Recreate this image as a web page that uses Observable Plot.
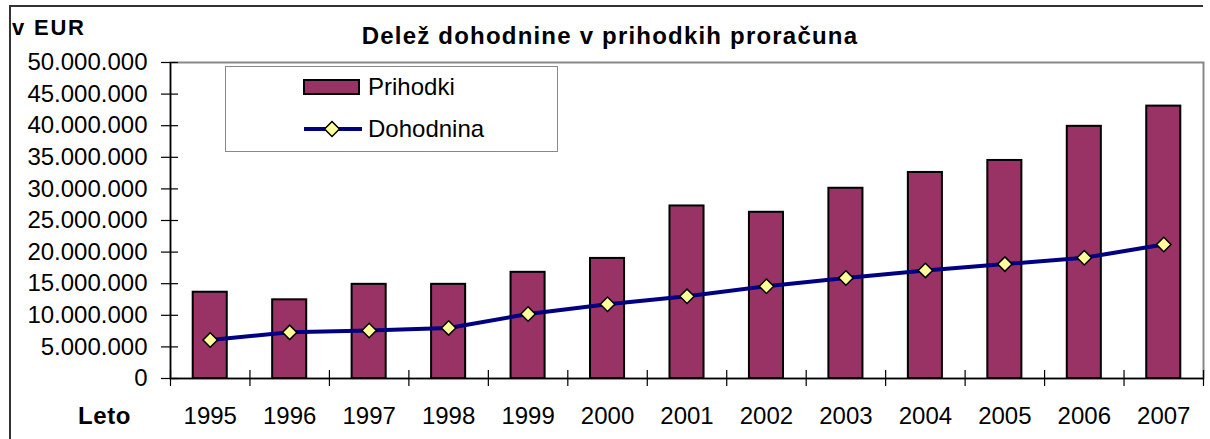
<!DOCTYPE html>
<html>
<head>
<meta charset="utf-8">
<script src="https://cdn.jsdelivr.net/npm/d3@7"></script>
<script src="https://cdn.jsdelivr.net/npm/@observablehq/plot@0.6"></script>
<style>
  html, body { margin: 0; padding: 0; background: #fff; }
  #wrap { position: relative; width: 1210px; height: 439px; overflow: hidden; font-family: "Liberation Sans", Arial, sans-serif; color: #000; }
  #outer { position: absolute; left: 9px; top: 5px; width: 1194px; height: 460px; border-left: 2px solid #333; border-top: 2px solid #333; box-sizing: border-box; }
  #chart { position: absolute; left: 0; top: 0; }
  .lbl { position: absolute; font-weight: bold; white-space: nowrap; line-height: 1; }
  #title { left: 0; width: 1220px; text-align: center; top: 24px; font-size: 24px; letter-spacing: 1.2px; }
  #unit { left: 12px; top: 17px; font-size: 22px; letter-spacing: 1.8px; }
  #leto { left: 78px; top: 404px; font-size: 24px; letter-spacing: 0.6px; }
  #legend { position: absolute; left: 225px; top: 66px; width: 333px; height: 86px; border: 1.5px solid #888; background: #fff; box-sizing: border-box; }
</style>
</head>
<body>
<div id="wrap">
  <div id="outer"></div>
  <div id="chart"></div>
  <div class="lbl" id="title">Delež dohodnine v prihodkih proračuna</div>
  <div class="lbl" id="unit">v EUR</div>
  <div class="lbl" id="leto">Leto</div>
  <div id="legend"></div>
</div>
<script>
// ---- data ----
const years = [1995, 1996, 1997, 1998, 1999, 2000, 2001, 2002, 2003, 2004, 2005, 2006, 2007];
const prihodki = [13650000, 12450000, 14900000, 14900000, 16800000, 19000000, 27300000, 26300000, 30100000, 32600000, 34500000, 39900000, 43100000];
const dohodnina = [6100000, 7300000, 7600000, 8000000, 10200000, 11750000, 13000000, 14600000, 15900000, 17100000, 18100000, 19100000, 21200000];
const yTicks = [0, 5000000, 10000000, 15000000, 20000000, 25000000, 30000000, 35000000, 40000000, 45000000, 50000000];
const seriesNames = ["Prihodki", "Dohodnina"];

const data = years.map((year, i) => ({year, prihodki: prihodki[i], dohodnina: dohodnina[i]}));
const boundaries = years.map(y => y - 0.5).concat([years[years.length - 1] + 0.5]);
const fmt = d => d3.format(",")(d).replace(/,/g, ".");

const BAR = "#993366", LINE = "#000080", DIAM = "#FFFF99";

const chart = Plot.plot({
  width: 1210,
  height: 439,
  marginLeft: 170,
  marginRight: 7,
  marginTop: 62,
  marginBottom: 61,
  style: {fontFamily: "'Liberation Sans', Arial, sans-serif", fontSize: "24px", background: "transparent", color: "#000", overflow: "visible"},
  x: {domain: [boundaries[0], boundaries[boundaries.length - 1]]},
  y: {domain: [0, 50000000]},
  marks: [
    Plot.frame({stroke: "#888", strokeWidth: 2}),
    Plot.rectY(data, {x1: d => d.year - 0.5, x2: d => d.year + 0.5, y: "prihodki", insetLeft: 22.7, insetRight: 22.7, fill: BAR, stroke: "#000", strokeWidth: 2}),
    Plot.ruleY([0], {stroke: "#000", strokeWidth: 1.5}),
    Plot.ruleX([boundaries[0]], {stroke: "#000", strokeWidth: 1.5}),
    Plot.axisY({ticks: yTicks, tickSize: 17, dx: 8, tickFormat: () => "", label: null, stroke: "#000", strokeWidth: 1.2}),
    Plot.axisY({ticks: yTicks, tickSize: 0, tickPadding: 23, tickFormat: fmt, fontSize: 24, fill: "#000", label: null}),
    Plot.axisX({ticks: boundaries, tickSize: 16, dy: -8, tickFormat: () => "", label: null, stroke: "#000", strokeWidth: 1.2}),
    Plot.axisX({ticks: years, tickSize: 0, tickPadding: 28, tickFormat: d => String(d), fontSize: 24, fill: "#000", label: null}),
    Plot.line(data, {x: "year", y: "dohodnina", stroke: LINE, strokeWidth: 4}),
    Plot.dot(data, {x: "year", y: "dohodnina", symbol: "diamond2", r: 6.5, fill: DIAM, stroke: "#000", strokeWidth: 1.5})
  ]
});
document.getElementById("chart").appendChild(chart);

// ---- legend ----
const lg = d3.select("#legend").append("svg").attr("width", 333).attr("height", 86).style("position", "absolute").style("left", "-1.5px").style("top", "-1.5px");
lg.append("rect").attr("x", 79).attr("y", 14).attr("width", 55).attr("height", 14).attr("fill", BAR).attr("stroke", "#000").attr("stroke-width", 2);
lg.append("line").attr("x1", 79).attr("x2", 137).attr("y1", 63).attr("y2", 63).attr("stroke", LINE).attr("stroke-width", 4);
lg.append("path").attr("d", "M107,55.5L114.5,63L107,70.5L99.5,63Z").attr("fill", DIAM).attr("stroke", "#000").attr("stroke-width", 1.5);
lg.selectAll("text.name").data(seriesNames).join("text")
  .attr("x", 143).attr("y", (d, i) => i === 0 ? 21 : 63).attr("dy", "0.35em")
  .attr("font-family", "'Liberation Sans', Arial, sans-serif").attr("font-size", 24).text(d => d);
</script>
</body>
</html>
